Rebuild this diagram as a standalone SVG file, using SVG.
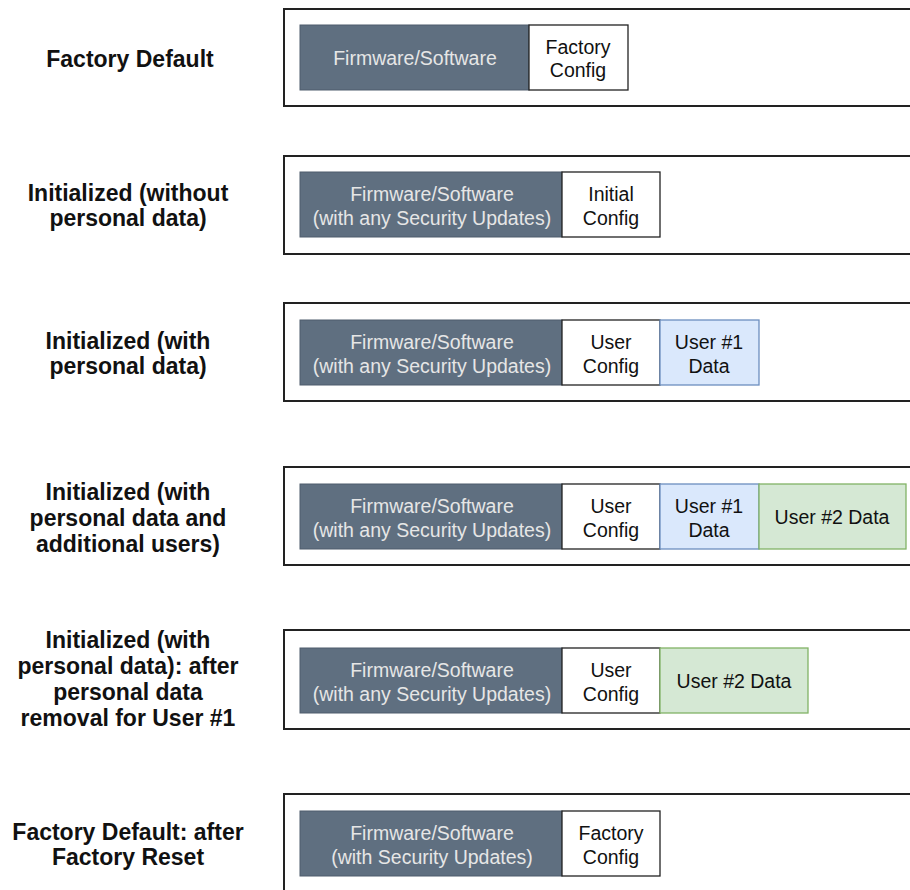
<svg xmlns="http://www.w3.org/2000/svg" width="910" height="890" viewBox="0 0 910 890">
<style>
.outer{fill:#fff;stroke:#222;stroke-width:2}
.fw{fill:#5f6f80;stroke:#4f5d6c;stroke-width:1}
.cfg{fill:#fff;stroke:#222;stroke-width:1.3}
.u1{fill:#dae8fc;stroke:#6c8ebf;stroke-width:1.3}
.u2{fill:#d5e8d4;stroke:#82b366;stroke-width:1.3}
.lbl{font-family:"Liberation Sans",Arial,sans-serif;font-weight:bold;font-size:23px;fill:#111;text-anchor:middle}
.t{font-family:"Liberation Sans",Arial,sans-serif;font-size:19.5px;fill:#111;text-anchor:middle}
.tw{font-family:"Liberation Sans",Arial,sans-serif;font-size:19.5px;fill:#e6e6e6;text-anchor:middle}
</style>
<rect width="910" height="890" fill="#fff"/>
<g id="connectors"></g>
<g id="row1">
<rect class="outer" x="284" y="9" width="640" height="97"/>
<text class="lbl" x="130" y="67">Factory Default</text>
<rect class="fw" x="300" y="25" width="229" height="65"/>
<text class="tw" x="415" y="65">Firmware/Software</text>
<rect class="cfg" x="529" y="25" width="99" height="65"/>
<text class="t" x="578" y="54">Factory</text>
<text class="t" x="578" y="77">Config</text>
</g>
<g id="row2">
<rect class="outer" x="284" y="156" width="640" height="98"/>
<text class="lbl" x="128" y="201">Initialized (without</text>
<text class="lbl" x="128" y="226">personal data)</text>
<rect class="fw" x="300" y="172" width="262" height="65"/>
<text class="tw" x="432" y="201">Firmware/Software</text>
<text class="tw" x="432" y="225">(with any Security Updates)</text>
<rect class="cfg" x="562" y="172" width="98" height="65"/>
<text class="t" x="611" y="201">Initial</text>
<text class="t" x="611" y="225">Config</text>
</g>
<g id="row3">
<rect class="outer" x="284" y="303" width="640" height="98"/>
<text class="lbl" x="128" y="349">Initialized (with</text>
<text class="lbl" x="128" y="374">personal data)</text>
<rect class="fw" x="300" y="320" width="262" height="65"/>
<text class="tw" x="432" y="349">Firmware/Software</text>
<text class="tw" x="432" y="373">(with any Security Updates)</text>
<rect class="cfg" x="562" y="320" width="98" height="65"/>
<text class="t" x="611" y="349">User</text>
<text class="t" x="611" y="373">Config</text>
<rect class="u1" x="660" y="320" width="99" height="65"/>
<text class="t" x="709" y="349">User #1</text>
<text class="t" x="709" y="373">Data</text>
</g>
<g id="row4">
<rect class="outer" x="284" y="467" width="640" height="98"/>
<text class="lbl" x="128" y="500">Initialized (with</text>
<text class="lbl" x="128" y="526">personal data and</text>
<text class="lbl" x="128" y="552">additional users)</text>
<rect class="fw" x="300" y="484" width="262" height="65"/>
<text class="tw" x="432" y="513">Firmware/Software</text>
<text class="tw" x="432" y="537">(with any Security Updates)</text>
<rect class="cfg" x="562" y="484" width="98" height="65"/>
<text class="t" x="611" y="513">User</text>
<text class="t" x="611" y="537">Config</text>
<rect class="u1" x="660" y="484" width="99" height="65"/>
<text class="t" x="709" y="513">User #1</text>
<text class="t" x="709" y="537">Data</text>
<rect class="u2" x="759" y="484" width="147" height="65"/>
<text class="t" x="832" y="524">User #2 Data</text>
</g>
<g id="row5">
<rect class="outer" x="284" y="630" width="640" height="99"/>
<text class="lbl" x="128" y="648">Initialized (with</text>
<text class="lbl" x="128" y="674">personal data): after</text>
<text class="lbl" x="128" y="700">personal data</text>
<text class="lbl" x="128" y="726">removal for User #1</text>
<rect class="fw" x="300" y="648" width="262" height="65"/>
<text class="tw" x="432" y="677">Firmware/Software</text>
<text class="tw" x="432" y="701">(with any Security Updates)</text>
<rect class="cfg" x="562" y="648" width="98" height="65"/>
<text class="t" x="611" y="677">User</text>
<text class="t" x="611" y="701">Config</text>
<rect class="u2" x="660" y="648" width="148" height="65"/>
<text class="t" x="734" y="688">User #2 Data</text>
</g>
<g id="row6">
<rect class="outer" x="284" y="794" width="640" height="110"/>
<text class="lbl" x="128" y="840">Factory Default: after</text>
<text class="lbl" x="128" y="865">Factory Reset</text>
<rect class="fw" x="300" y="811" width="262" height="65"/>
<text class="tw" x="432" y="840">Firmware/Software</text>
<text class="tw" x="432" y="864">(with Security Updates)</text>
<rect class="cfg" x="562" y="811" width="98" height="65"/>
<text class="t" x="611" y="840">Factory</text>
<text class="t" x="611" y="864">Config</text>
</g>
</svg>
